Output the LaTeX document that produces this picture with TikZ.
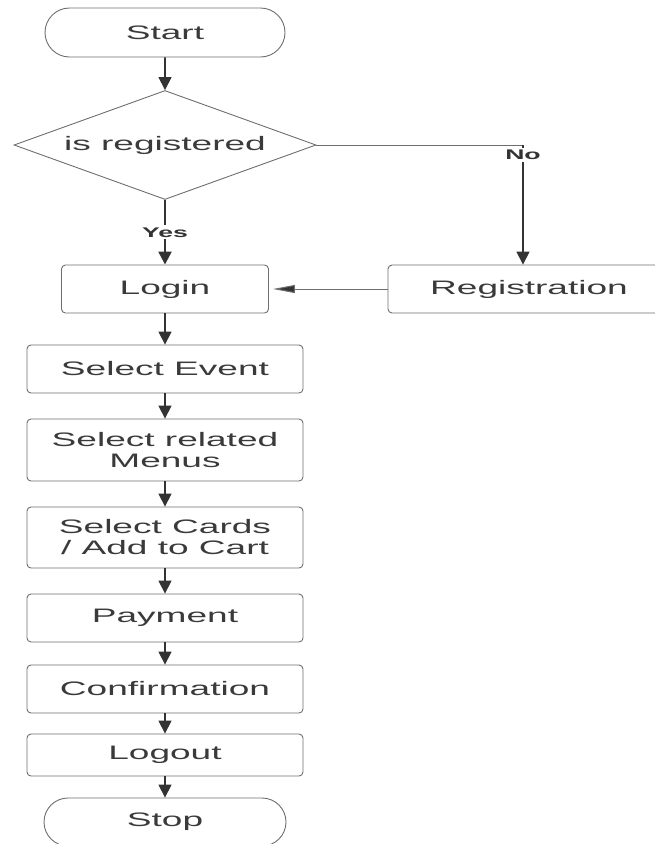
\documentclass[tikz,border=0pt]{standalone}
\usepackage{fontspec}
\setmainfont{Liberation Sans}[FakeStretch=1.9]
\usepackage{tikz}
\usetikzlibrary{positioning}
\usetikzlibrary{shapes.geometric,shapes.misc}
\usetikzlibrary{arrows.meta}
\definecolor{boxline}{HTML}{6E6E6E}
\definecolor{flowline}{HTML}{333333}
\definecolor{txt}{HTML}{3A3A3A}
\tikzset{
  process/.style={draw=boxline, line width=0.9pt, rounded corners=4pt,
    minimum width=276pt, minimum height=48pt, inner sep=0pt, align=center,
    text=txt, font=\fontsize{19.5}{21}\selectfont},
  startstop/.style={process, rounded rectangle, sharp corners, minimum width=242pt},
  decision/.style={process, diamond, sharp corners, aspect=2.77,
    minimum width=302pt, minimum height=109pt},
  flow/.style={draw=flowline, line width=1.6pt, -{Triangle[length=13pt,width=13pt]}},
  lbl/.style={fill=white, text=flowline, inner sep=2pt,
    font=\fontsize{14}{14}\selectfont\bfseries},
}

\begin{document}
\begin{tikzpicture}[x=1pt,y=-1pt]
\useasboundingbox (0,0) rectangle (654,844);
\node[startstop, minimum width=240pt, minimum height=49pt] (start) at (165,32.5) {Start};
\node[decision] (isreg) at (165,145) {is registered};
\node[process, minimum width=207pt] (login) at (165,289) {Login};
\node[process, minimum width=282pt] (reg) at (529,289) {Registration};
\node[process] (event) at (165,369) {Select Event};
\node[process, minimum height=62pt] (menus) at (165,450) {Select related\\Menus};
\node[process, minimum height=61pt] (cards) at (165,537.5) {Select Cards\\/ Add to Cart};
\node[process] (pay) at (165,618) {Payment};
\node[process] (confirm) at (165,689) {Confirmation};
\node[process, minimum height=42pt] (logout) at (165,755) {Logout};
\node[startstop, minimum height=48pt] (stop) at (165,822) {Stop};

\draw[flow] (start) -- (isreg);
\draw[flow, line width=2.4pt] (isreg) -- node[lbl] {Yes} (login);
% no branch
\coordinate (nobend) at (523,145);
\draw[draw=boxline, line width=1pt] (isreg.east) -- (nobend);
\draw[flow] (nobend) -- node[lbl, pos=0.085] {No} (nobend |- reg.north);
\draw[draw=boxline, line width=1pt, -{Triangle[length=22pt,width=8pt,fill=flowline]},
  shorten >=4pt] (reg) -- (login);
\foreach \a/\b in {login/event, event/menus, menus/cards, cards/pay,
  pay/confirm, confirm/logout, logout/stop}
  \draw[flow] (\a) -- (\b);
\end{tikzpicture}
\end{document}
